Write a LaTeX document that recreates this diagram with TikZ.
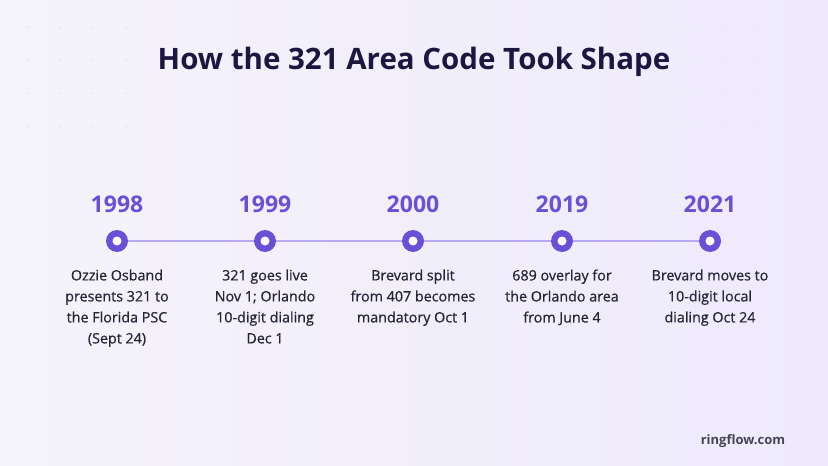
\documentclass[tikz,border=0pt]{standalone}
\usepackage{fontspec}
\setmainfont{Open Sans}
\newfontfamily\descfont[FakeBold=0.6]{Open Sans}
\definecolor{bgL}{HTML}{F5F3FB}
\definecolor{bgR}{HTML}{EEEAFC}
\definecolor{titlec}{HTML}{1C1740}
\definecolor{yearc}{HTML}{6A50D6}
\definecolor{linec}{HTML}{B9A9F0}
\definecolor{textc}{HTML}{272338}
\definecolor{dotc}{HTML}{ECE9F7}
\tikzset{
  year/.style={font=\bfseries\fontsize{23}{27}\selectfont, text=yearc, anchor=base},
  desc/.style={font=\descfont\fontsize{14.3}{21}\selectfont, text=textc, align=center, anchor=north},
  marker/.style={circle, fill=yearc, minimum size=22pt, inner sep=0pt},
  hole/.style={circle, fill=white, minimum size=9pt, inner sep=0pt},
  tline/.style={draw=linec, line width=2.5pt},
  gdot/.style={circle, fill=dotc, minimum size=3pt, inner sep=0pt}
}
\begin{document}
\begin{tikzpicture}[x=1pt,y=-1pt]
\shade[left color=bgL, right color=bgR] (0,0) rectangle (828,466);
\useasboundingbox (0,0) rectangle (828,466);
% faint dot grids
\foreach \i in {0,...,3}{\foreach \j in {0,...,3}{
  \node[gdot] at (27+33*\i,27+33*\j) {};
  \node[gdot] at (691+33*\i,27+33*\j) {};
}}
\node[font=\bfseries\fontsize{29.5}{34}\selectfont, text=titlec] (title) at (414,62) {How the 321 Area Code Took Shape};
\foreach \n/\x/\yr/\txt in {
  a/117/1998/{Ozzie Osband\\presents 321 to\\the Florida PSC\\(Sept 24)},
  b/265/1999/{321 goes live\\Nov 1; Orlando\\10-digit dialing\\Dec 1},
  c/413/2000/{Brevard split\\from 407 becomes\\mandatory Oct 1},
  d/562/2019/{689 overlay for\\the Orlando area\\from June 4},
  e/710/2021/{Brevard moves to\\10-digit local\\dialing Oct 24}}{
  \coordinate (m\n) at (\x,241);
  \node[year] (y\n) at (\x,212) {\yr};
  \node[desc] (t\n) at (\x,266) {\txt};
}
\draw[tline] (ma) -- (mb) -- (mc) -- (md) -- (me);
\foreach \n in {a,b,c,d,e}{
  \node[marker] (k\n) at (m\n) {};
  \node[hole] at (m\n) {};
}
\node[font=\bfseries\fontsize{13}{16}\selectfont, text=textc!85] (brand) at (743,441) {ringflow.com};
\end{tikzpicture}
\end{document}
